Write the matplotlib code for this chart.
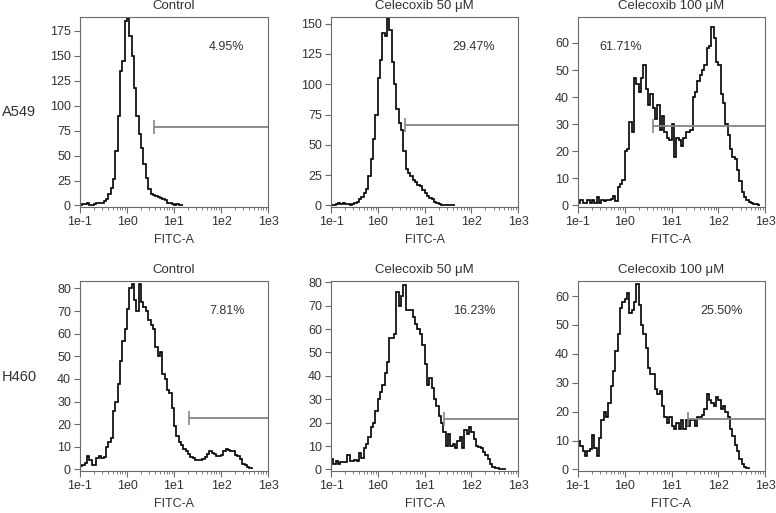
import numpy as np
import matplotlib
matplotlib.use("Agg")
import matplotlib.pyplot as plt

# ----------------------- Data (counts per bin, 20 bins per decade from 1e-1) -----------------------
a549_control = [0.5, 1, 1, 2, 0.5, 0.5, 1, 2, 2, 3, 5, 7, 12, 18, 27, 55, 90, 135, 145, 185,
                188, 170, 150, 118, 90, 72, 58, 42, 28, 17, 12, 11, 10, 9, 8, 7, 6, 3, 2, 1,
                0.5, 1, 0.5, 0.5]
a549_cel50 = [0.5, 0.5, 1, 2, 1.5, 2, 1, 1, 0.5, 1, 2, 3, 5, 7, 10, 14, 24, 38, 55, 75,
              105, 120, 142, 140, 155, 145, 118, 100, 80, 68, 62, 45, 30, 27, 24, 21, 19, 17, 16, 13,
              10, 8, 6, 5, 3, 2, 1, 0.5, 0.5, 0.5, 0.5, 0.3, 0.3]
a549_cel100 = [1, 2, 1, 1, 2, 1, 2, 1, 3, 1, 2, 1.5, 2, 2, 2.5, 3.5, 1.5, 7, 8, 9.5,
               20, 21, 31, 27, 47, 45, 42, 47, 52, 43, 37, 41, 36, 32, 37, 28, 33, 27, 25, 24,
               30, 18, 25, 24, 22, 25, 27, 27, 28, 40, 42, 46, 48, 50, 52, 58, 59, 66, 62, 53,
               52, 41, 38, 30, 26, 21, 18, 17, 13, 9, 5, 3, 2, 1.2, 0.8, 0.5, 0.5, 0.3]
h460_control = [1.5, 2, 3, 6, 4, 2, 2, 5, 6, 5, 5.5, 10, 12, 14, 26, 30, 38, 48, 57, 62,
                71, 80, 82, 75, 70, 82, 74, 72, 70, 66, 64, 62, 54, 50, 52, 42, 40, 35, 34, 27,
                19, 15, 12, 11, 9, 8, 7, 5.5, 5, 4, 4, 4, 4.5, 5.5, 7, 8, 7.5, 7, 6, 6,
                6.5, 8, 9, 8.5, 8, 8, 6.5, 6, 4.5, 2.5, 2, 1, 0.5]
h460_cel50 = [4.5, 2.5, 3.5, 2.5, 3, 3, 3, 6, 3.5, 3.5, 4, 3.5, 7, 5, 9, 11, 14, 18, 20, 25,
              30, 33, 36, 41, 46, 56, 56, 58, 76, 70, 74, 79, 68, 68, 68, 65, 62, 60, 58, 53,
              45, 36, 39, 35, 30, 27, 23, 20, 16, 10, 15, 10, 11, 9, 12, 14, 9, 17, 15, 18,
              16, 13, 10, 9.5, 9, 7.5, 6, 4.5, 2.5, 1.2, 0.8, 0.6, 0.3, 0.3, 0.3]
h460_cel100 = [10, 8, 6.5, 4.5, 6.5, 7, 12, 7.5, 4.5, 11, 17, 20, 18, 23, 29, 34, 41, 47, 56, 58,
               59, 61, 54, 55, 58, 64, 57, 50, 47, 42, 35, 33, 33, 28, 26, 27, 22, 18, 16, 18,
               15, 14, 16, 14, 17, 14, 17, 15, 17, 17, 15, 18, 18, 19, 21, 26, 24, 23, 22, 25,
               24, 21, 22, 20, 18, 14, 11.5, 8.5, 6.5, 3.5, 2, 1, 0.4]

titles = ["Control", "Celecoxib 50 \u03bcM", "Celecoxib 100 \u03bcM"]
row_labels = ["A549", "H460"]
percents = [["4.95%", "29.47%", "61.71%"], ["7.81%", "16.23%", "25.50%"]]
gate_start = [[3.8, 3.9, 3.95], [20.4, 25.6, 23.0]]
gate_level = [[79, 66.4, 29.4], [22.7, 21.7, 17.5]]
y_max = [[189, 155.5, 69.6], [83.3, 80.5, 65.2]]
y_ticks = [[np.arange(0, 176, 25), np.arange(0, 151, 25), np.arange(0, 61, 10)],
           [np.arange(0, 81, 10), np.arange(0, 81, 10), np.arange(0, 61, 10)]]
counts = [[a549_control, a549_cel50, a549_cel100], [h460_control, h460_cel50, h460_cel100]]

# ----------------------- Plotting -----------------------
plt.rcParams["font.family"] = ["Liberation Sans", "DejaVu Sans"]
W, H = 776, 513
fig = plt.figure(figsize=(W / 100, H / 100), dpi=100)

col_x = [(80, 268), (331, 518), (578, 765)]
row_y = [(17, 207), (281, 471)]
frame = "#6a6a6a"
txt = "#333333"

for r in range(2):
    for c in range(3):
        x0, x1 = col_x[c]
        y0, y1 = row_y[r]
        ax = fig.add_axes([x0 / W, 1 - y1 / H, (x1 - x0) / W, (y1 - y0) / H])
        vals = np.array(counts[r][c], dtype=float)
        edges = 10 ** (-1 + 0.05 * np.arange(len(vals) + 1))
        ax.stairs(vals, edges, color="black", lw=1.2)

        # gate
        ax.plot([gate_start[r][c], 1e3], [gate_level[r][c]] * 2, color="#858585", lw=1.3,
                solid_capstyle="butt")
        ax.plot([gate_start[r][c]], [gate_level[r][c]], marker="|", ms=9.5, mew=1.2,
                color="#858585")

        ax.set_xscale("log")
        ax.set_xlim(1e-1, 1e3)
        ym = y_max[r][c]
        ax.set_ylim(-ym * 0.008, ym)
        ax.set_xticks([1e-1, 1e0, 1e1, 1e2, 1e3])
        ax.set_xticklabels(["1e-1", "1e0", "1e1", "1e2", "1e3"])
        ax.set_xticks([m * 10.0 ** e for e in range(-1, 3) for m in range(2, 10)], minor=True)
        ax.set_yticks(y_ticks[r][c])
        ax.tick_params(axis="both", which="major", direction="out", length=4, width=0.8,
                       color=frame, labelcolor=txt, labelsize=9, pad=2.5)
        ax.tick_params(axis="x", which="minor", direction="out", length=2, width=0.6,
                       color=frame)
        for s in ax.spines.values():
            s.set_color(frame)
            s.set_linewidth(0.8)

        ax.text(0.5, 1.058, titles[c], transform=ax.transAxes, ha="center", va="center",
                fontsize=9.5, color=txt)
        ax.text(0.5, -0.172, "FITC-A", transform=ax.transAxes, ha="center", va="center",
                fontsize=9, color=txt)
        tx = 0.23 if (r == 0 and c == 2) else (0.78 if c == 0 else 0.765)
        ax.text(tx, 0.842, percents[r][c], transform=ax.transAxes, ha="center", va="center",
                fontsize=9, color=txt)

fig.text(2 / W, 1 - 112 / H, row_labels[0], ha="left", va="center", fontsize=10.5, color=txt)
fig.text(2 / W, 1 - 377 / H, row_labels[1], ha="left", va="center", fontsize=10.5, color=txt)

plt.savefig("out.png", dpi=100)
